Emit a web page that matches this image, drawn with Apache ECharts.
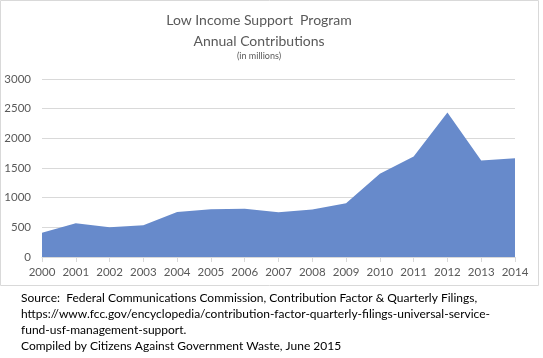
<!DOCTYPE html>
<html><head><meta charset="utf-8">
<script src="https://cdn.jsdelivr.net/npm/echarts@6/dist/echarts.min.js"></script>
<style>html,body{margin:0;padding:0;background:#fff}#c{width:543px;height:358px}</style>
</head><body><div id="c"></div>
<script>
var years = ['2000','2001','2002','2003','2004','2005','2006','2007','2008','2009','2010','2011','2012','2013','2014'];
var contributions = [410,569,501,535,760,805,815,755,799,906,1401,1693,2436,1626,1666];
var yTicks = [0,500,1000,1500,2000,2500,3000];
var titleLines = ['Low Income Support  Program','Annual Contributions'];
var subtitle = '(in millions)';
var sourceLines = [
 'Source:  Federal Communications Commission, Contribution Factor & Quarterly Filings,',
 'https://www.fcc.gov/encyclopedia/contribution-factor-quarterly-filings-universal-service-',
 'fund-usf-management-support.',
 'Compiled by Citizens Against Government Waste, June 2015'
];
var FONT = 'Lato, "Open Sans", sans-serif';
var chart = echarts.init(document.getElementById('c'));
var graphics = [
 {type:'rect', shape:{x:0.5,y:0.5,width:538,height:285}, style:{fill:'none',stroke:'#d9d9d9',lineWidth:1}, silent:true, z:-1},
 {type:'text', x:259, y:13, style:{text:titleLines[0], font:'14px '+FONT, fill:'#595959', align:'center'}},
 {type:'text', x:259, y:34, style:{text:titleLines[1], font:'14px '+FONT, fill:'#595959', align:'center'}},
 {type:'text', x:259, y:52, style:{text:subtitle, font:'9px '+FONT, fill:'#595959', align:'center'}}
];
sourceLines.forEach(function(t,i){
 graphics.push({type:'text', x:21, y:292+i*16, style:{text:t, font:'12px '+FONT, fill:'#000000'}});
});
chart.setOption({
 animation:false,
 grid:{left:42, right:28, top:79, bottom:101, containLabel:false},
 xAxis:{type:'category', data:years, boundaryGap:false,
   axisLine:{lineStyle:{color:'#d9d9d9'}},
   axisTick:{show:true, lineStyle:{color:'#d9d9d9'}, length:5, interval:0},
   axisLabel:{color:'#595959', fontFamily:FONT, fontSize:11.5, margin:9, interval:0},
   splitLine:{show:false}},
 yAxis:{type:'value', min:yTicks[0], max:yTicks[yTicks.length-1], interval:500,
   axisLine:{show:false}, axisTick:{show:false},
   axisLabel:{color:'#595959', fontFamily:FONT, fontSize:11.5, margin:11, formatter:function(v){return String(v);}},
   splitLine:{lineStyle:{color:'#d9d9d9'}}},
 series:[{type:'line', data:contributions, symbol:'none', lineStyle:{width:0},
   areaStyle:{color:'#678acb', opacity:1}}],
 graphic:graphics
});
</script></body></html>
